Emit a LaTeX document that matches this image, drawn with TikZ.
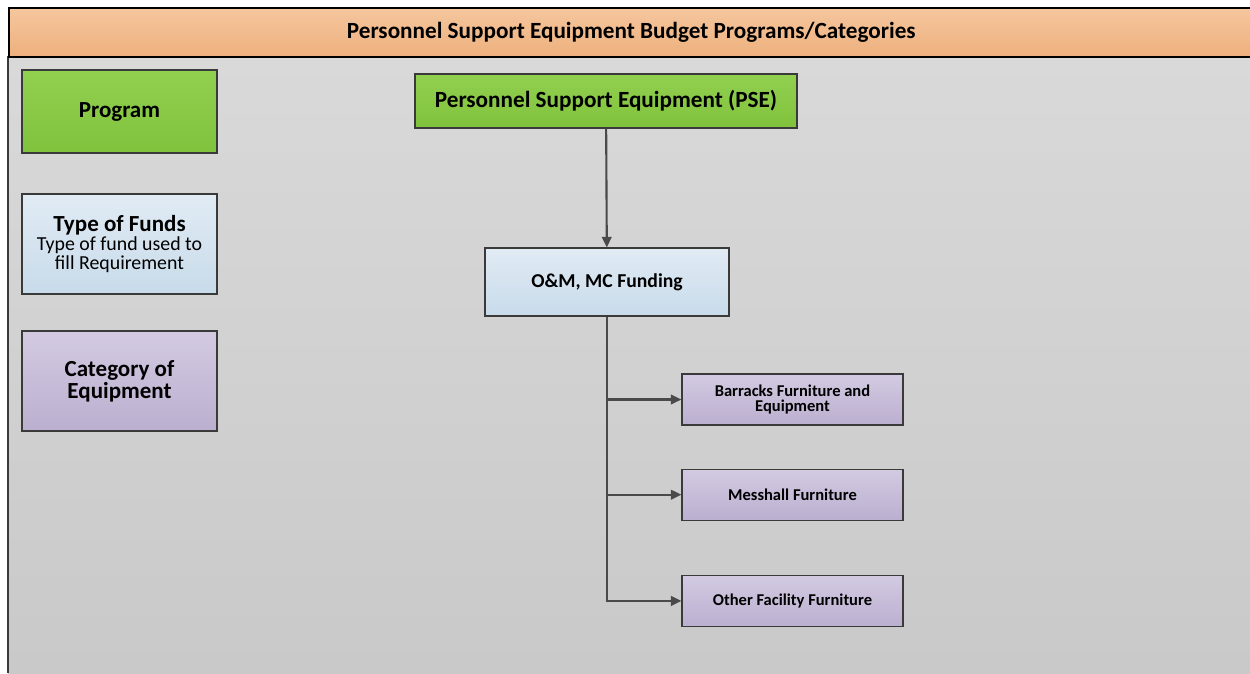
\documentclass[tikz,border=0pt]{standalone}
\usepackage{fontspec}
\setmainfont{Carlito}
\usepackage{xcolor}
\usetikzlibrary{arrows.meta, positioning}
\definecolor{edgegray}{HTML}{4A4A4A}
\definecolor{framegray}{HTML}{3A3A3A}
\definecolor{bandtop}{HTML}{F5C69E}
\definecolor{bandbot}{HTML}{EEB07D}
\definecolor{bgtop}{HTML}{D9D9D9}
\definecolor{bgbot}{HTML}{C9C9C9}
\definecolor{greentop}{HTML}{92D050}
\definecolor{greenbot}{HTML}{80C23C}
\definecolor{bluetop}{HTML}{E1EBF4}
\definecolor{bluebot}{HTML}{C8DBEA}
\definecolor{lilactop}{HTML}{D3CAE2}
\definecolor{lilacbot}{HTML}{BBAFCF}

\begin{document}
\begin{tikzpicture}[
    x=0.02cm, y=-0.02cm,
    box/.style={rectangle, draw=framegray, line width=0.7pt, align=center,
                font=\bfseries, inner sep=2pt},
    program/.style={box, top color=greentop, bottom color=greenbot},
    funds/.style={box, top color=bluetop, bottom color=bluebot},
    category/.style={box, top color=lilactop, bottom color=lilacbot},
    legend/.style={minimum width=3.9cm, font=\bfseries\fontsize{13.1}{11}\selectfont},
    item/.style={category, minimum width=4.42cm, minimum height=1.02cm,
                 font=\bfseries\fontsize{9.4}{8.5}\selectfont},
    arrow/.style={-{Triangle[length=6pt, width=5.5pt]}, line width=1.2pt, color=edgegray}
]
\useasboundingbox (0,0) rectangle (1250,673);

% Background and title band
\fill[white] (0,0) rectangle (1250,673);
\shade[top color=bgtop, bottom color=bgbot] (8,56) rectangle (1250,673);
\draw[framegray, line width=0.8pt] (8,56) -- (8,673);
\node[draw=black, line width=1pt, top color=bandtop, bottom color=bandbot,
      minimum width=24.9cm, minimum height=0.98cm, anchor=north west,
      font=\bfseries\fontsize{13.2}{14}\selectfont] (title) at (8,7)
    {Personnel Support Equipment Budget Programs/Categories};

% Legend
\node[program, legend, minimum height=1.66cm] (program) at (119.5,111.5) {Program};
\node[funds, legend, minimum height=2cm] (funds) at (119.5,244)
    {Type of Funds\\\normalfont\fontsize{11.3}{10}\selectfont Type of fund used to\\
     \normalfont\fontsize{11.3}{10}\selectfont fill Requirement};
\node[category, legend, minimum height=2cm] (category) at (119.5,381)
    {Category of\\Equipment};

% Program and funding
\node[program, minimum width=7.64cm, minimum height=1.08cm,
      font=\bfseries\fontsize{13.2}{14}\selectfont] (pse) at (606,101)
    {Personnel Support Equipment (PSE)};
\node[funds, minimum width=4.88cm, minimum height=1.36cm,
      font=\bfseries\fontsize{11.2}{12}\selectfont] (omf) at (607,282)
    {O\&M, MC Funding};

% Categories
\node[item] (barracks) at (792.5,399.5) {Barracks Furniture and\\Equipment};
\node[item, below=0.86cm of barracks] (messhall) {Messhall Furniture};
\node[item, below=1.08cm of messhall] (other) {Other Facility Furniture};

% Arrows
\draw[arrow] (pse) -- (omf);
\draw[arrow] (omf.south) |- (barracks.west);
\draw[arrow] (omf.south) |- (messhall.west);
\draw[arrow] (omf.south) |- (other.west);

\end{tikzpicture}
\end{document}
